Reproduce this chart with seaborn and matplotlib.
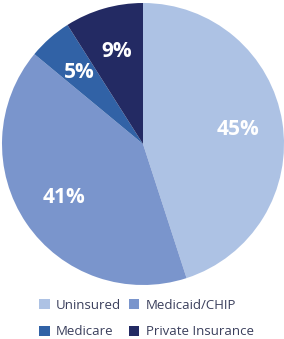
import matplotlib
matplotlib.use("Agg")
import matplotlib.pyplot as plt
import seaborn as sns
from matplotlib.patches import Patch

categories = ["Uninsured", "Medicaid/CHIP", "Medicare", "Private Insurance"]
values = [45, 41, 5, 9]
labels = ["45%", "41%", "5%", "9%"]
colors = ["#adc2e4", "#7a95cc", "#3162a6", "#232a63"]

sns.set_theme(style="white")
plt.rcParams['font.family'] = ['Open Sans', 'DejaVu Sans']

fig = plt.figure(figsize=(2.84, 3.39), dpi=100)
ax = fig.add_axes([2/284, 54/339, 282/284, 282/339])
wedges, texts = ax.pie(values, colors=colors, startangle=90, counterclock=False,
                       labels=labels, labeldistance=0.68,
                       wedgeprops=dict(linewidth=0),
                       textprops=dict(color="white", fontsize=15, fontweight="bold"))
for t in texts:
    t.set_ha("center"); t.set_va("center")
ax.set_aspect("equal")
ax.set_xlim(-1, 1); ax.set_ylim(-1, 1)
ax.axis("off")

order = [0, 2, 1, 3]
handles = [Patch(facecolor=colors[i], edgecolor="none") for i in order]
leg = fig.legend(handles, [categories[i] for i in order], ncol=2,
                 loc="upper left", bbox_to_anchor=(39/284, 1 - 299/339),
                 frameon=False, fontsize=9.5, handlelength=0.8, handleheight=0.8,
                 handletextpad=0.5, columnspacing=0.55, labelspacing=1.0,
                 borderpad=0, borderaxespad=0)
for t in leg.get_texts():
    t.set_color("#3a3f5c")
fig.savefig("out.png", dpi=100)
